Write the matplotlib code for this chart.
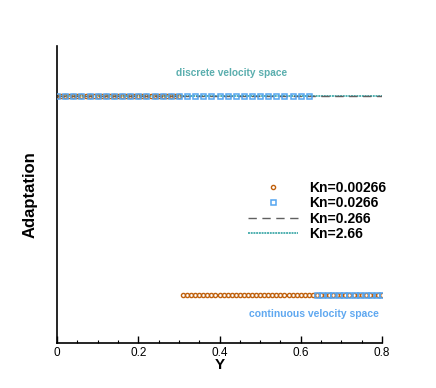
import numpy as np
import matplotlib.pyplot as plt
from matplotlib.ticker import MultipleLocator

plt.rcParams['font.family'] = ['Liberation Sans', 'DejaVu Sans']
plt.rcParams['font.size'] = 8.5

# sample positions along Y (mesh points) for each case
Y_line = np.linspace(0.0, 0.8, 81)
Y_circ = np.linspace(0.0, 0.8, 81)
Y_sq = np.concatenate([np.linspace(0.0, 0.62, 32), np.linspace(0.64, 0.8, 13)])
kn_labels = ["Kn=0.00266", "Kn=0.0266", "Kn=0.266", "Kn=2.66"]
switch_Y = [0.31, 0.63, 0.81, 0.81]   # 1 = discrete, 0 = continuous
xticks = [0, 0.2, 0.4, 0.6, 0.8]
xtick_labels = ["0", "0.2", "0.4", "0.6", "0.8"]

fig = plt.figure(figsize=(4.36, 3.88), dpi=100)
ax = fig.add_axes([0.131, 0.116, 0.745, 0.765])

def adaptation(y, y_switch):
    return np.where(y < y_switch, 1.0, 0.0)

# lines first, then markers on top
ax.plot(Y_line, adaptation(Y_line, switch_Y[3]), color="#4fb0b0", lw=1.4,
        ls=(0, (1, 0.4)), label=kn_labels[3], zorder=2)
ax.plot(Y_line, adaptation(Y_line, switch_Y[2]), color="#606060", lw=1.0,
        ls=(0, (6, 4)), label=kn_labels[2], zorder=3)
ax.plot(Y_sq, adaptation(Y_sq, switch_Y[1]), ls="none", marker="s", ms=3.6,
        mfc="none", mec="#55a5f0", mew=1.1, label=kn_labels[1], zorder=5)
ax.plot(Y_circ, adaptation(Y_circ, switch_Y[0]), ls="none", marker="o", ms=3.0,
        mfc="none", mec="#c0600c", mew=1.0, label=kn_labels[0], zorder=4)

ax.text(0.43, 1.115, "discrete velocity space", color="#5aaeae",
        fontsize=7.3, fontweight="bold", ha="center", va="center")
ax.text(0.632, -0.092, "continuous velocity space", color="#5fa8f0",
        fontsize=7.5, fontweight="bold", ha="center", va="center")

ax.set_xlim(0, 0.8)
ax.set_ylim(-0.24, 1.25)
ax.set_yticks([])
ax.set_xticks(xticks)
ax.set_xticklabels(xtick_labels)
ax.xaxis.set_minor_locator(MultipleLocator(0.05))
ax.tick_params(axis="x", which="major", direction="in", length=5, width=1, pad=3)
ax.tick_params(axis="x", which="minor", direction="in", length=2.5, width=0.8)
for s in ["top", "right"]:
    ax.spines[s].set_visible(False)
ax.spines["left"].set_linewidth(1.2)
ax.spines["bottom"].set_linewidth(1.2)

ax.set_xlabel("Y", fontsize=11, fontweight="bold", labelpad=-1)
ax.set_ylabel("Adaptation", fontsize=12, fontweight="bold", labelpad=14)

h, l = ax.get_legend_handles_labels()
order = [3, 2, 1, 0]
ax.legend([h[i] for i in order], [l[i] for i in order], loc="center left",
          bbox_to_anchor=(0.55, 0.445), frameon=False, handlelength=3.6,
          handletextpad=0.8, labelspacing=0.1,
          prop={"weight": "bold", "size": 10})

fig.savefig("out.png", dpi=100)
